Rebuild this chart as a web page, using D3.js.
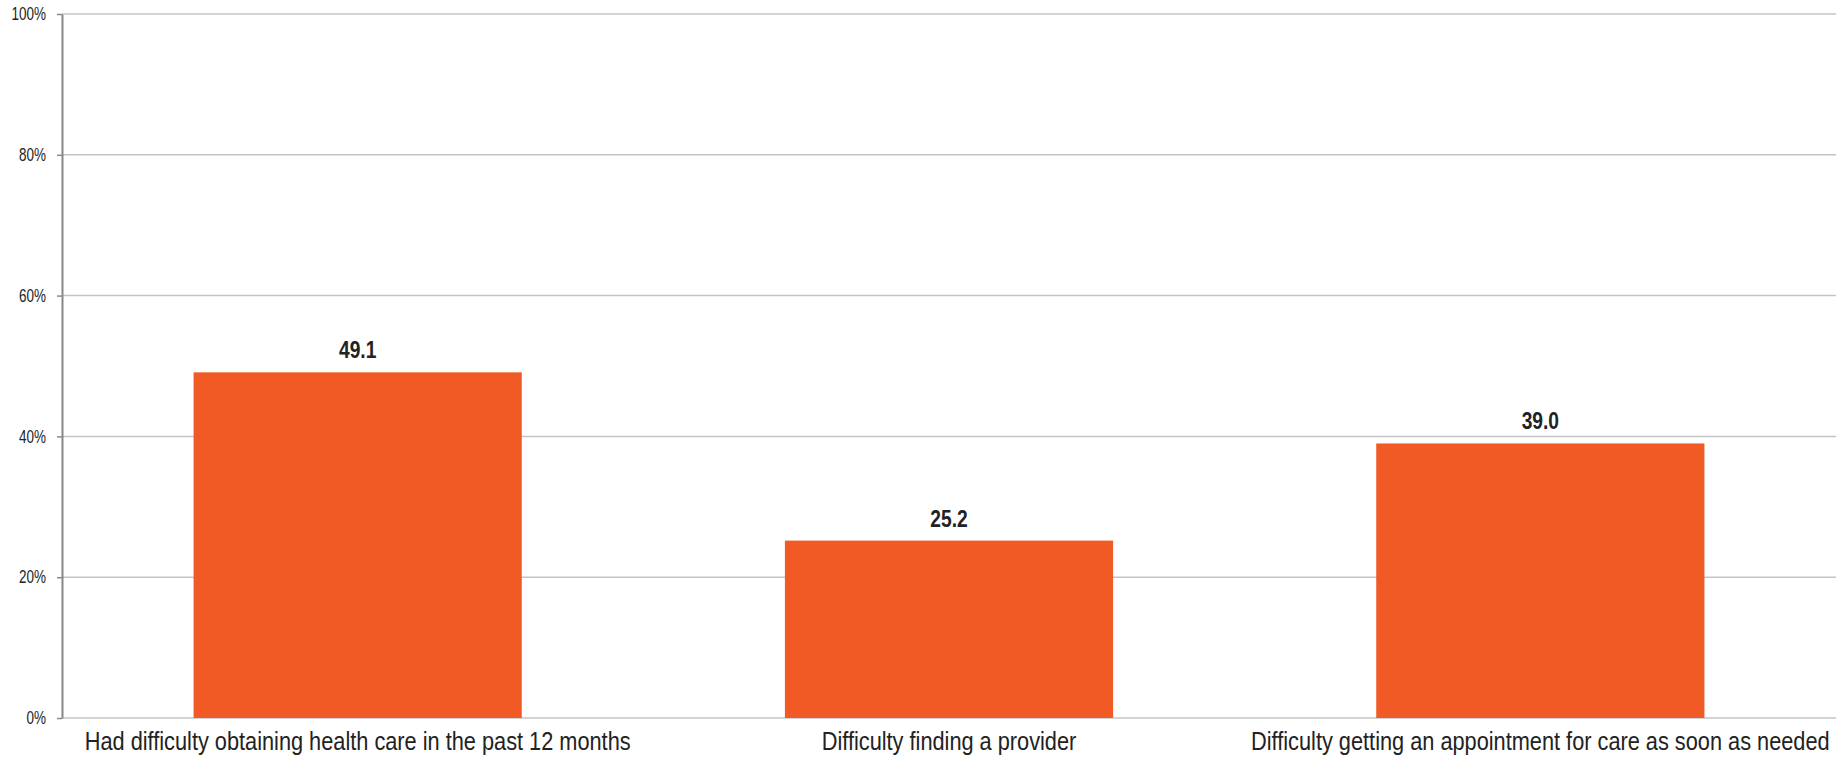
<!DOCTYPE html>
<html>
<head>
<meta charset="utf-8">
<script src="https://cdn.jsdelivr.net/npm/d3@7"></script>
<style>
  body { margin: 0; background: #fff; }
  svg text { font-family: "Liberation Sans Narrow", "Arial Narrow", "Liberation Sans", sans-serif; fill: #222; }
</style>
</head>
<body>
<svg id="chart"></svg>
<script>
// chart data
let categories = [
    'Had difficulty obtaining health care in the past 12 months',
    'Difficulty finding a provider',
    'Difficulty getting an appointment for care as soon as needed'
]
let values = [49.1, 25.2, 39.0]
let yTicks = [0, 20, 40, 60, 80, 100]

let opts = {
    width: 1843,
    height: 758,
    left: 62,
    right: 1836,
    top: 14,
    bottom: 718,
    barColor: '#f15a24',
    gridColor: '#c4c4c4',
    axisColor: '#888'
}

// no narrow font installed, so squeeze the text horizontally
function narrow(sel, s) {
    sel.each(function() {
        let t = d3.select(this)
        let x = +t.attr('x') || 0
        t.attr('x', x / s).attr('transform', 'scale(' + s + ',1)')
    })
}

let svg = d3.select('#chart')
    .attr('width', opts.width)
    .attr('height', opts.height)

let x = d3.scaleBand()
    .domain(categories)
    .range([opts.left, opts.right])
    .paddingInner(0.445)
    .paddingOuter(0.2225)

let y = d3.scaleLinear()
    .domain([0, 100])
    .range([opts.bottom, opts.top])

// gridlines
svg.append('g')
    .selectAll('line')
    .data(yTicks)
    .enter().append('line')
    .attr('x1', opts.left)
    .attr('x2', opts.right)
    .attr('y1', d => y(d))
    .attr('y2', d => y(d))
    .attr('stroke', opts.gridColor)
    .attr('stroke-width', 1.5)

// bars
svg.append('g')
    .selectAll('rect')
    .data(values)
    .enter().append('rect')
    .attr('x', (d, i) => x(categories[i]))
    .attr('y', d => y(d))
    .attr('width', x.bandwidth())
    .attr('height', d => y(0) - y(d))
    .attr('fill', opts.barColor)

// value labels
let vl = svg.append('g')
    .selectAll('text')
    .data(values)
    .enter().append('text')
    .attr('x', (d, i) => x(categories[i]) + x.bandwidth() / 2)
    .attr('y', d => y(d) - 14)
    .attr('text-anchor', 'middle')
    .attr('font-size', 24)
    .attr('font-weight', 'bold')
    .text(d => d.toFixed(1))
narrow(vl, 0.8)

// y axis
let yAxis = d3.axisLeft(y)
    .tickValues(yTicks)
    .tickSize(5)
    .tickSizeOuter(0)
    .tickPadding(11)
    .tickFormat(d => d + '%')

let ya = svg.append('g')
    .attr('transform', 'translate(' + opts.left + ',0)')
    .call(yAxis)
ya.select('.domain').attr('stroke', opts.axisColor).attr('stroke-width', 2)
ya.selectAll('.tick line').attr('stroke', opts.axisColor).attr('stroke-width', 1.5)
ya.selectAll('.tick text')
    .attr('font-size', 17.5)
    .attr('font-family', null)
    .attr('fill', '#333')
narrow(ya.selectAll('.tick text'), 0.77)

// x axis
let xAxis = d3.axisBottom(x)
    .tickSize(0)
    .tickPadding(14)

let xa = svg.append('g')
    .attr('transform', 'translate(0,' + opts.bottom + ')')
    .call(xAxis)
xa.select('.domain').remove()
xa.selectAll('.tick text')
    .attr('font-size', 25)
    .attr('font-family', null)
    .attr('fill', '#222')
narrow(xa.selectAll('.tick text'), 0.87)
</script>
</body>
</html>
